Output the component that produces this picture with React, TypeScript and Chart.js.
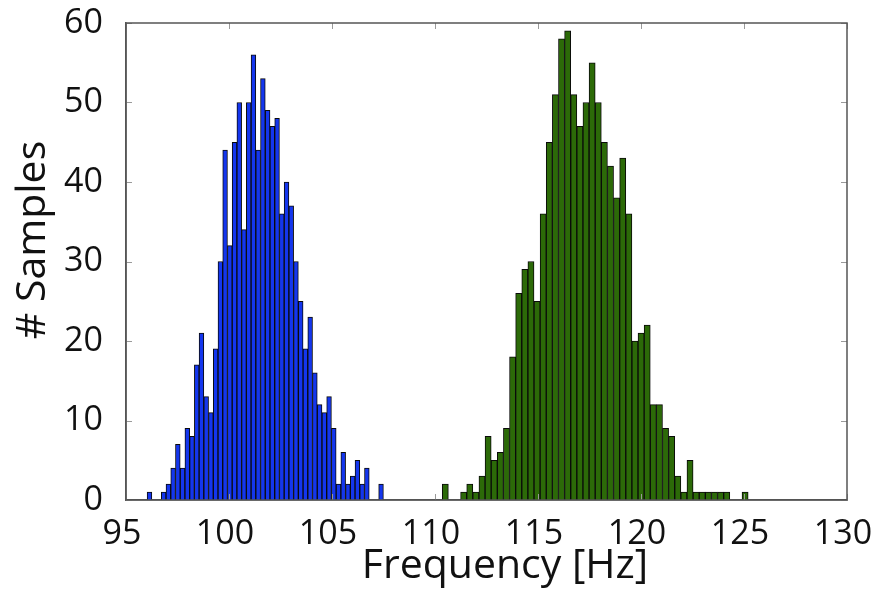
import React, { useEffect, useRef } from "react";
import { Chart, registerables } from "chart.js";

Chart.register(...registerables);

// Histogram bin definitions (Hz)
const blueBinStart = 96.14;
const blueBinWidth = 0.2294;
const greenBinStart = 110.5;
const greenBinWidth = 0.297;

// Sample counts per bin
const blueCounts = [
  1, 0, 0, 1, 2, 4, 7, 4, 9, 8,
  17, 21, 13, 11, 19, 30, 44, 32, 45, 50,
  34, 50, 56, 44, 53, 49, 47, 48, 36, 40,
  37, 30, 25, 19, 23, 16, 12, 11, 13, 9,
  2, 6, 2, 3, 5, 2, 4, 0, 0, 2,
];
const greenCounts = [
  2, 0, 0, 1, 2, 1, 3, 8, 5, 6,
  9, 18, 26, 29, 30, 25, 36, 45, 51, 58,
  59, 51, 47, 50, 55, 50, 45, 42, 38, 43,
  36, 20, 21, 22, 12, 12, 9, 8, 3, 1,
  5, 1, 1, 1, 1, 1, 1, 0, 0, 1,
];

const xMin = 95;
const xMax = 130;
const xStep = 5;
const yMin = 0;
const yMax = 60;
const yStep = 10;
const xTitle = "Frequency [Hz]";
const yTitle = "# Samples";

const W = 883;
const H = 591;
const PLOT_LEFT = 126;
const PLOT_RIGHT = 847;
const PLOT_TOP = 23;
const PLOT_BOTTOM = 500;
const pxPerHz = (PLOT_RIGHT - PLOT_LEFT) / (xMax - xMin);

const FONT = "'Open Sans', 'Noto Sans', sans-serif";

const toPoints = (start: number, width: number, counts: number[]) =>
  counts.map((c, k) => ({ x: start + k * width, y: c }));

const framePlugin = {
  id: "frame",
  afterDatasetsDraw(chart: any) {
    const { ctx, chartArea, scales } = chart;
    const { left, right, top, bottom } = chartArea;
    ctx.save();
    // inward ticks
    ctx.strokeStyle = "#9a9a9a";
    ctx.lineWidth = 1;
    scales.y.ticks.forEach((t: any) => {
      const py = Math.round(scales.y.getPixelForValue(t.value)) + 0.5;
      ctx.beginPath();
      ctx.moveTo(left, py);
      ctx.lineTo(left + 6, py);
      ctx.moveTo(right, py);
      ctx.lineTo(right - 6, py);
      ctx.stroke();
    });
    scales.x.ticks.forEach((t: any) => {
      const px = Math.round(scales.x.getPixelForValue(t.value)) + 0.5;
      ctx.beginPath();
      ctx.moveTo(px, top);
      ctx.lineTo(px, top + 6);
      ctx.moveTo(px, bottom);
      ctx.lineTo(px, bottom - 6);
      ctx.stroke();
    });
    // box
    ctx.strokeStyle = "#555";
    ctx.lineWidth = 1.5;
    ctx.strokeRect(left, top, right - left, bottom - top);
    ctx.restore();
  },
  afterDraw(chart: any) {
    const { ctx } = chart;
    ctx.save();
    ctx.fillStyle = "#111";
    ctx.font = `41px ${FONT}`;
    ctx.textAlign = "center";
    ctx.textBaseline = "alphabetic";
    ctx.fillText(xTitle, 505, 578);
    ctx.translate(45, 240);
    ctx.rotate(-Math.PI / 2);
    ctx.fillText(yTitle, 0, 0);
    ctx.restore();
  },
};

export default function App() {
  const ref = useRef<HTMLCanvasElement | null>(null);

  useEffect(() => {
    if (!ref.current) return;
    const chart = new Chart(ref.current, {
      type: "bar",
      data: {
        datasets: [
          {
            label: "blue",
            data: toPoints(blueBinStart, blueBinWidth, blueCounts),
            backgroundColor: "#1436ee",
            borderColor: "#0a0a0a",
            borderWidth: 1,
            barThickness: blueBinWidth * pxPerHz,
            grouped: false,
          } as any,
          {
            label: "green",
            data: toPoints(greenBinStart, greenBinWidth, greenCounts),
            backgroundColor: "#2c6a08",
            borderColor: "#0a0a0a",
            borderWidth: 1,
            barThickness: greenBinWidth * pxPerHz,
            grouped: false,
          } as any,
        ],
      },
      options: {
        animation: false,
        responsive: false,
        maintainAspectRatio: false,
        devicePixelRatio: 1,
        layout: {
          padding: { left: 0, top: PLOT_TOP, right: W - PLOT_RIGHT, bottom: 0 },
        },
        plugins: {
          legend: { display: false },
          tooltip: { enabled: false },
          title: { display: false },
        },
        scales: {
          x: {
            type: "linear",
            min: xMin,
            max: xMax,
            offset: false,
            afterFit: (s: any) => {
              s.height = H - PLOT_BOTTOM;
              s.paddingLeft = 0;
              s.paddingRight = 0;
              s.paddingTop = 0;
              s.paddingBottom = 0;
            },
            grid: { display: false, drawTicks: false },
            border: { display: true, color: "#555", width: 1.5 },
            ticks: {
              stepSize: xStep,
              color: "#111",
              font: { family: FONT, size: 34 },
              padding: 14,
              labelOffset: -4,
              maxRotation: 0,
              autoSkip: false,
            },
          },
          y: {
            min: yMin,
            max: yMax,
            afterFit: (s: any) => {
              s.width = PLOT_LEFT;
              s.paddingLeft = 0;
              s.paddingRight = 0;
              s.paddingTop = 0;
              s.paddingBottom = 0;
            },
            grid: { display: false, drawTicks: false },
            border: { display: true, color: "#555", width: 1.5 },
            ticks: {
              stepSize: yStep,
              color: "#111",
              font: { family: FONT, size: 34 },
              padding: 23,
            },
          },
        },
      },
      plugins: [framePlugin],
    });
    return () => chart.destroy();
  }, []);

  return (
    <div style={{ position: "fixed", left: 0, top: 0, width: W, height: H, background: "#fff" }}>
      <canvas ref={ref} width={W} height={H} style={{ width: W, height: H, display: "block" }} />
    </div>
  );
}
